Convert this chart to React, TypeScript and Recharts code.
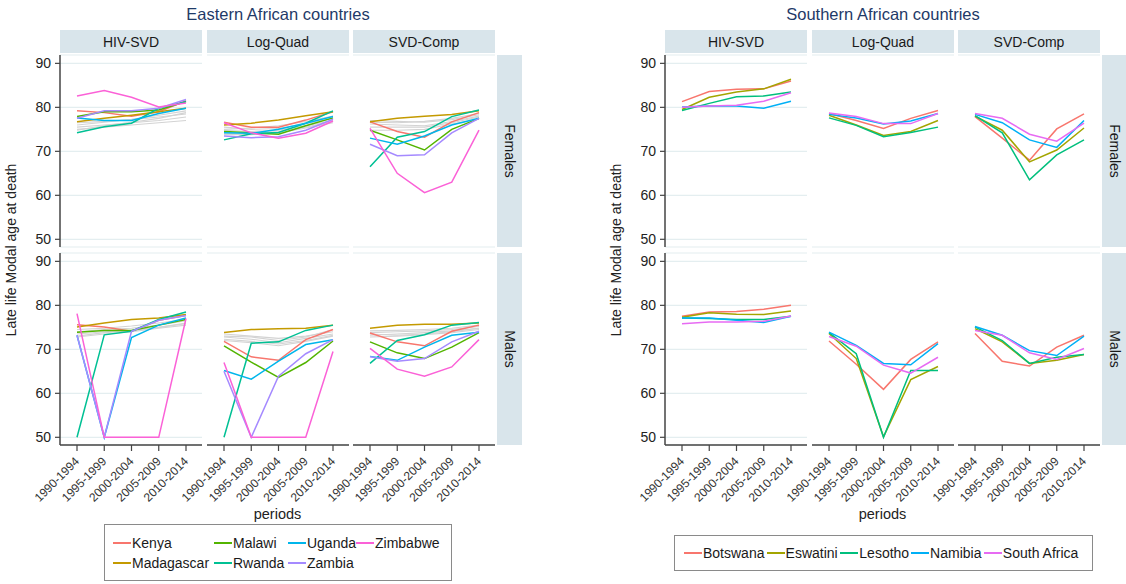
import React from 'react';
import { LineChart, Line, XAxis, YAxis, CartesianGrid } from 'recharts';

const PERIODS = ['1990-1994', '1995-1999', '2000-2004', '2005-2009', '2010-2014'];
const Y_TICKS = [50, 60, 70, 80, 90];
const METHODS = ['HIV-SVD', 'Log-Quad', 'SVD-Comp'];
const SEXES = ['Females', 'Males'];

const EAST_COUNTRIES = ['Kenya', 'Madagascar', 'Malawi', 'Rwanda', 'Uganda', 'Zambia', 'Zimbabwe'];
const EAST_COLORS = ['#F8766D', '#C49A00', '#53B400', '#00C094', '#00B6EB', '#A58AFF', '#FB61D7'];
const SOUTH_COUNTRIES = ['Botswana', 'Eswatini', 'Lesotho', 'Namibia', 'South Africa'];
const SOUTH_COLORS = ['#F8766D', '#A3A500', '#00BF7D', '#00B0F6', '#E76BF3'];

// ---- Eastern, Females ----
const EAST_F_HIV: Record<string, number[]> = {
  Kenya: [79.2, 78.8, 78.0, 79.0, 81.5],
  Madagascar: [76.7, 77.5, 78.2, 79.0, 79.8],
  Malawi: [77.9, 79.0, 79.0, 79.4, 81.3],
  Rwanda: [74.2, 75.6, 76.4, 79.8, 81.3],
  Uganda: [77.6, 77.0, 77.0, 78.6, 79.8],
  Zambia: [77.5, 79.2, 79.2, 79.8, 81.8],
  Zimbabwe: [82.6, 83.8, 82.3, 80.1, 81.0],
};
const EAST_F_LQ: Record<string, number[]> = {
  Kenya: [76.6, 75.5, 75.5, 77.1, 79.0],
  Madagascar: [76.0, 76.4, 77.1, 78.1, 79.0],
  Malawi: [74.5, 74.2, 73.9, 75.8, 77.6],
  Rwanda: [72.6, 74.0, 74.3, 76.4, 79.2],
  Uganda: [74.2, 74.1, 75.0, 76.4, 77.9],
  Zambia: [73.5, 73.1, 73.3, 74.8, 77.3],
  Zimbabwe: [76.5, 74.2, 73.0, 74.1, 76.9],
};
const EAST_F_SVD: Record<string, number[]> = {
  Kenya: [76.7, 74.5, 73.2, 76.7, 78.8],
  Madagascar: [76.7, 77.5, 78.0, 78.4, 79.2],
  Malawi: [74.8, 72.6, 70.3, 75.0, 77.5],
  Rwanda: [66.5, 73.2, 74.5, 77.9, 79.4],
  Uganda: [73.0, 71.6, 73.5, 76.0, 77.5],
  Zambia: [71.6, 69.0, 69.2, 74.2, 77.5],
  Zimbabwe: [75.2, 65.0, 60.6, 63.0, 74.8],
};
// ---- Eastern, Males ----
const EAST_M_HIV: Record<string, number[]> = {
  Kenya: [75.6, 75.1, 74.1, 76.6, 77.7],
  Madagascar: [75.1, 76.0, 76.8, 77.1, 77.9],
  Malawi: [73.9, 74.3, 74.3, 75.5, 76.8],
  Rwanda: [50.0, 73.3, 74.1, 76.8, 78.5],
  Uganda: [73.2, 50.0, 72.7, 75.5, 77.1],
  Zambia: [73.2, 50.0, 74.1, 76.6, 77.7],
  Zimbabwe: [78.1, 50.0, 50.0, 50.0, 77.0],
};
const EAST_M_LQ: Record<string, number[]> = {
  Kenya: [71.8, 68.3, 67.5, 72.2, 74.5],
  Madagascar: [73.8, 74.5, 74.7, 74.8, 75.5],
  Malawi: [70.8, 67.1, 63.6, 67.0, 71.9],
  Rwanda: [50.0, 71.4, 71.7, 74.3, 75.5],
  Uganda: [65.2, 63.2, 67.3, 71.1, 72.2],
  Zambia: [65.0, 50.0, 63.9, 69.0, 72.2],
  Zimbabwe: [67.0, 50.0, 50.0, 50.0, 69.5],
};
const EAST_M_SVD: Record<string, number[]> = {
  Kenya: [73.7, 71.7, 70.8, 74.1, 75.5],
  Madagascar: [74.8, 75.5, 75.7, 75.7, 76.0],
  Malawi: [71.7, 69.2, 67.9, 70.5, 73.8],
  Rwanda: [66.8, 72.0, 73.3, 75.5, 76.1],
  Uganda: [68.4, 67.5, 70.5, 73.2, 73.9],
  Zambia: [68.3, 67.3, 67.9, 71.7, 74.1],
  Zimbabwe: [70.2, 65.5, 63.9, 66.0, 72.2],
};
// grey background countries (Eastern panels)
const GREY_F_HIV = [[76.5, 76.8, 77.2, 77.8, 78.5], [75.5, 76.0, 76.5, 77.0, 77.8], [75.0, 75.5, 76.0, 76.5, 77.0], [74.8, 75.8, 76.6, 77.5, 78.8], [76.0, 76.6, 77.3, 78.2, 79.2]];
const GREY_F_LQ = [[75.5, 75.0, 75.2, 76.3, 77.5], [74.8, 74.5, 74.8, 75.8, 77.0], [74.0, 74.2, 74.5, 75.5, 76.8], [75.0, 75.3, 75.8, 76.8, 78.0], [73.8, 73.8, 74.2, 75.3, 76.5]];
const GREY_F_SVD = [[77.0, 76.8, 76.6, 77.2, 78.3], [76.2, 76.0, 75.8, 76.8, 78.0], [75.5, 75.5, 75.5, 76.5, 77.8], [74.8, 74.8, 75.0, 76.2, 77.3], [76.6, 76.5, 76.8, 77.5, 78.6]];
const GREY_M_HIV = [[74.0, 74.5, 74.8, 75.5, 76.5], [73.5, 74.0, 74.3, 75.0, 76.0], [73.0, 73.8, 74.2, 75.0, 75.8], [74.5, 74.8, 75.3, 76.0, 76.8], [72.8, 73.5, 74.0, 74.8, 75.5]];
const GREY_M_LQ = [[73.5, 73.0, 72.5, 73.0, 74.0], [72.8, 72.3, 71.5, 72.5, 73.5], [72.0, 71.5, 70.8, 71.8, 73.0], [73.0, 72.8, 72.0, 72.8, 74.5], [72.3, 71.8, 71.2, 72.0, 73.2]];
const GREY_M_SVD = [[73.8, 74.0, 74.2, 74.5, 75.2], [73.2, 73.5, 73.8, 74.2, 74.8], [72.8, 73.0, 73.3, 73.8, 74.5], [74.2, 74.3, 74.5, 74.8, 75.5], [73.5, 73.2, 73.5, 74.0, 74.8]];

// ---- Southern, Females ----
const SOUTH_F_HIV: Record<string, number[]> = {
  Botswana: [81.3, 83.6, 84.1, 84.2, 86.0],
  Eswatini: [79.5, 82.3, 83.5, 84.2, 86.4],
  Lesotho: [79.3, 80.9, 82.4, 82.6, 83.5],
  Namibia: [80.1, 80.3, 80.3, 79.8, 81.4],
  'South Africa': [80.0, 80.3, 80.5, 81.4, 83.3],
};
const SOUTH_F_LQ: Record<string, number[]> = {
  Botswana: [78.6, 77.0, 75.2, 77.5, 79.3],
  Eswatini: [78.2, 76.0, 73.6, 74.5, 77.0],
  Lesotho: [77.6, 75.9, 73.3, 74.3, 75.5],
  Namibia: [78.4, 77.6, 76.2, 76.9, 78.6],
  'South Africa': [78.7, 77.9, 76.3, 76.3, 78.6],
};
const SOUTH_F_SVD: Record<string, number[]> = {
  Botswana: [77.9, 73.0, 68.0, 75.1, 78.5],
  Eswatini: [78.0, 74.8, 67.6, 70.3, 75.3],
  Lesotho: [78.1, 74.2, 63.5, 69.2, 72.6],
  Namibia: [78.4, 76.5, 72.6, 70.9, 77.0],
  'South Africa': [78.6, 77.5, 73.9, 72.3, 76.4],
};
// ---- Southern, Males ----
const SOUTH_M_HIV: Record<string, number[]> = {
  Botswana: [77.5, 78.5, 78.6, 79.1, 80.0],
  Eswatini: [77.3, 78.3, 78.0, 77.9, 78.7],
  Lesotho: [77.1, 77.0, 76.8, 76.8, 77.5],
  Namibia: [77.1, 77.1, 76.6, 76.1, 77.5],
  'South Africa': [75.8, 76.2, 76.2, 76.4, 77.6],
};
const SOUTH_M_LQ: Record<string, number[]> = {
  Botswana: [71.9, 66.6, 60.9, 67.7, 71.7],
  Eswatini: [73.6, 67.9, 50.1, 63.1, 66.1],
  Lesotho: [73.8, 69.0, 50.0, 65.2, 65.2],
  Namibia: [73.9, 70.9, 66.8, 66.5, 71.3],
  'South Africa': [72.9, 70.7, 66.4, 64.6, 68.2],
};
const SOUTH_M_SVD: Record<string, number[]> = {
  Botswana: [73.6, 67.3, 66.2, 70.5, 73.2],
  Eswatini: [74.7, 71.7, 66.8, 67.5, 68.8],
  Lesotho: [75.1, 72.0, 66.8, 68.2, 68.8],
  Namibia: [75.2, 73.2, 69.7, 68.6, 73.0],
  'South Africa': [74.3, 73.2, 69.2, 67.7, 70.2],
};

const FONT = '"Liberation Sans", Arial, Helvetica, sans-serif';
const PANEL_W = 142;
const PANEL_H = 192;
const ROW_Y = [55, 253];
const EAST_COL_X = [60, 207, 353];
const SOUTH_COL_X = [665, 812, 958];
const Y_DOMAIN: [number, number] = [48.25, 91.9];
const STRIP_BG = '#d9e5eb';
const AXIS_COLOR = '#444';

function buildRows(series: Record<string, number[]>, grey: number[][]) {
  return PERIODS.map((p, i) => {
    const row: Record<string, any> = { period: p };
    Object.keys(series).forEach((k) => { row[k] = series[k][i]; });
    grey.forEach((g, j) => { row['grey' + j] = g[i]; });
    return row;
  });
}

const XTick = (props: any) => {
  const { x, y, payload } = props;
  const tx = x + 3;
  const ty = y + 9;
  return (
    <text x={tx} y={ty} transform={`rotate(-45, ${tx}, ${ty})`} textAnchor="end" fontSize={12} fill="#333" fontFamily={FONT}>
      {payload.value}
    </text>
  );
};

function Panel(props: {
  left: number; top: number; showY: boolean; showX: boolean;
  series: Record<string, number[]>; countries: string[]; colors: string[]; grey: number[][];
}) {
  const { left, top, showY, showX, series, countries, colors, grey } = props;
  const ML = showY ? 40 : 0;
  const MB = showX ? 80 : 0;
  const data = buildRows(series, grey);
  return (
    <div style={{ position: 'absolute', left: left - ML, top, width: PANEL_W + ML, height: PANEL_H + MB }}>
      <LineChart width={PANEL_W + ML} height={PANEL_H + MB} data={data} margin={{ top: 0, right: 0, bottom: 0, left: 0 }}>
        <CartesianGrid vertical={false} stroke="#e4eef0" strokeWidth={1.2} />
        <XAxis
          dataKey="period"
          hide={!showX}
          height={MB}
          padding={{ left: 17, right: 16 }}
          interval={0}
          tick={<XTick />}
          tickSize={6}
          tickMargin={2}
          axisLine={{ stroke: AXIS_COLOR, strokeWidth: 1.5 }}
          tickLine={{ stroke: AXIS_COLOR, strokeWidth: 1.2 }}
        />
        <YAxis
          type="number"
          domain={Y_DOMAIN}
          ticks={Y_TICKS}
          interval={0}
          allowDataOverflow
          width={ML}
          tick={showY ? { fontSize: 14, fill: '#222', fontFamily: FONT } : false}
          axisLine={showY ? { stroke: AXIS_COLOR, strokeWidth: 1.5 } : false}
          tickLine={showY ? { stroke: AXIS_COLOR, strokeWidth: 1.2 } : false}
          tickSize={5}
          tickMargin={4}
        />
        {grey.map((_, j) => (
          <Line key={'g' + j} dataKey={'grey' + j} stroke="#d3d3d3" strokeWidth={1.1} dot={false} isAnimationActive={false} />
        ))}
        {countries.map((c, i) => (
          <Line key={c} dataKey={c} stroke={colors[i]} strokeWidth={1.5} dot={false} isAnimationActive={false} />
        ))}
      </LineChart>
    </div>
  );
}

function Facet(props: {
  colX: number[]; stripX: number; title: string; titleX: number; yLabelX: number;
  panels: Record<string, number[]>[][]; greys: number[][][][]; countries: string[]; colors: string[];
}) {
  const { colX, stripX, title, titleX, yLabelX, panels, greys, countries, colors } = props;
  const midX = (colX[0] + colX[2] + PANEL_W) / 2;
  return (
    <>
      <div style={{ position: 'absolute', left: titleX - 150, top: 5, width: 300, textAlign: 'center', fontSize: 16.5, color: '#1f3a68', fontFamily: FONT }}>
        {title}
      </div>
      {METHODS.map((m, ci) => (
        <div key={m} style={{ position: 'absolute', left: colX[ci], top: 30, width: PANEL_W, height: 23, background: STRIP_BG, display: 'flex', alignItems: 'center', justifyContent: 'center', fontSize: 14, color: '#1a1a1a', fontFamily: FONT }}>
          {m}
        </div>
      ))}
      {SEXES.map((s, ri) => (
        <div key={s} style={{ position: 'absolute', left: stripX, top: ROW_Y[ri], width: 25, height: PANEL_H, background: STRIP_BG, display: 'flex', alignItems: 'center', justifyContent: 'center', fontFamily: FONT }}>
          <div style={{ transform: 'rotate(90deg)', fontSize: 14, color: '#1a1a1a', whiteSpace: 'nowrap' }}>{s}</div>
        </div>
      ))}
      {SEXES.map((s, ri) => METHODS.map((m, ci) => (
        <Panel
          key={s + m}
          left={colX[ci]}
          top={ROW_Y[ri]}
          showY={ci === 0}
          showX={ri === 1}
          series={panels[ri][ci]}
          grey={greys[ri][ci]}
          countries={countries}
          colors={colors}
        />
      )))}
      <svg style={{ position: 'absolute', left: 0, top: 0, overflow: 'visible' }} width={1} height={1}>
        <text x={yLabelX} y={250} transform={`rotate(-90, ${yLabelX}, 250)`} textAnchor="middle" fontSize={14} fill="#222" fontFamily={FONT}>
          Late life Modal age at death
        </text>
        <text x={midX} y={519} textAnchor="middle" fontSize={14.5} fill="#222" fontFamily={FONT}>periods</text>
      </svg>
    </>
  );
}

function LegendBox(props: { left: number; top: number; width: number; height: number; rows: string[][]; colorOf: (c: string) => string; colWidths: number[]; padLeft: number }) {
  const { left, top, width, height, rows, colorOf, colWidths, padLeft } = props;
  return (
    <div style={{ position: 'absolute', left, top, width, height, border: '1px solid #8a8a8a', boxSizing: 'border-box', fontFamily: FONT, fontSize: 14, color: '#1a1a1a', display: 'flex', flexDirection: 'column', justifyContent: 'center' }}>
      {rows.map((r, ri) => (
        <div key={ri} style={{ display: 'flex', alignItems: 'center', height: 20, paddingLeft: padLeft }}>
          {r.map((c, i) => (
            <div key={c} style={{ display: 'flex', alignItems: 'center', width: colWidths[i] }}>
              <div style={{ width: 18, height: 2, background: colorOf(c), marginRight: 1 }} />
              <span style={{ whiteSpace: 'nowrap' }}>{c}</span>
            </div>
          ))}
        </div>
      ))}
    </div>
  );
}

export default function App() {
  const eastPanels = [[EAST_F_HIV, EAST_F_LQ, EAST_F_SVD], [EAST_M_HIV, EAST_M_LQ, EAST_M_SVD]];
  const eastGreys = [[GREY_F_HIV, GREY_F_LQ, GREY_F_SVD], [GREY_M_HIV, GREY_M_LQ, GREY_M_SVD]];
  const southPanels = [[SOUTH_F_HIV, SOUTH_F_LQ, SOUTH_F_SVD], [SOUTH_M_HIV, SOUTH_M_LQ, SOUTH_M_SVD]];
  const southGreys = [[[], [], []], [[], [], []]];
  const eastColor = (c: string) => EAST_COLORS[EAST_COUNTRIES.indexOf(c)];
  const southColor = (c: string) => SOUTH_COLORS[SOUTH_COUNTRIES.indexOf(c)];
  return (
    <div style={{ position: 'absolute', left: 0, top: 0, width: 1126, height: 584, background: '#fff', overflow: 'hidden', fontFamily: FONT }}>
      <style>{`.recharts-surface, .recharts-wrapper { overflow: visible !important; }`}</style>
      <Facet colX={EAST_COL_X} stripX={497} title="Eastern African countries" titleX={278} yLabelX={16}
        panels={eastPanels} greys={eastGreys} countries={EAST_COUNTRIES} colors={EAST_COLORS} />
      <Facet colX={SOUTH_COL_X} stripX={1102} title="Southern African countries" titleX={883} yLabelX={621}
        panels={southPanels} greys={southGreys} countries={SOUTH_COUNTRIES} colors={SOUTH_COLORS} />
      <LegendBox left={104} top={524} width={348} height={57}
        rows={[['Kenya', 'Malawi', 'Uganda', 'Zimbabwe'], ['Madagascar', 'Rwanda', 'Zambia']]}
        colorOf={eastColor} colWidths={[101, 74, 68, 90]} padLeft={8} />
      <LegendBox left={674} top={535} width={419} height={36}
        rows={[['Botswana', 'Eswatini', 'Lesotho', 'Namibia', 'South Africa']]}
        colorOf={southColor} colWidths={[84, 75, 72, 74, 110]} padLeft={9} />
    </div>
  );
}
